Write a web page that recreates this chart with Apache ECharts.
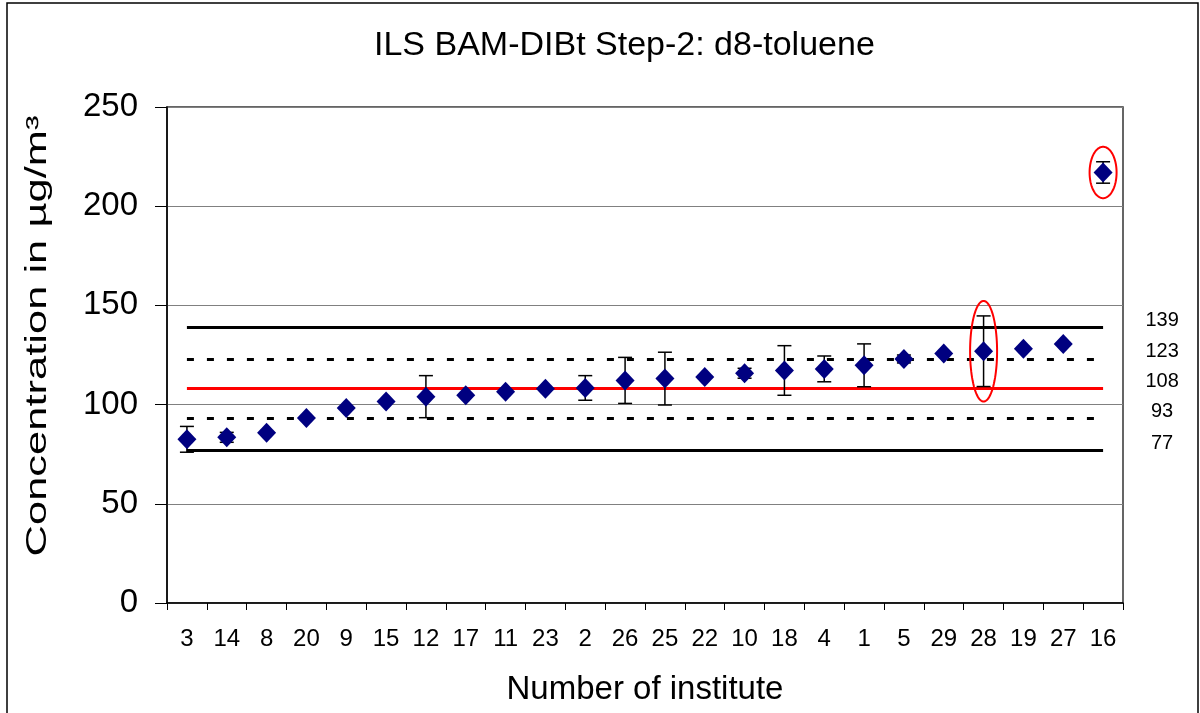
<!DOCTYPE html>
<html>
<head>
<meta charset="utf-8">
<script src="https://cdn.jsdelivr.net/npm/echarts@6/dist/echarts.min.js"></script>
<style>
html,body{margin:0;padding:0;background:#fff;}
#chart{width:1200px;height:713px;}
</style>
</head>
<body>
<div id="chart"></div>
<script>
// ---- data ----
const institutes = ["3","14","8","20","9","15","12","17","11","23","2","26","25","22","10","18","4","1","5","29","28","19","27","16"];
const concentrations = [82.5, 83.5, 85.8, 93.2, 98.3, 101.5, 104.0, 104.7, 106.5, 108.0, 108.4, 112.2, 113.1, 113.9, 115.8, 117.2, 118.0, 119.8, 123.0, 125.7, 126.9, 128.2, 130.5, 217.0];
const uncertainties = [6.5, 2.5, 0, 0, 0, 0, 10.6, 0, 0, 0, 6.2, 11.6, 13.3, 0, 2.5, 12.5, 6.5, 10.8, 2.0, 0, 17.8, 0, 0, 5.4];
const limitValues = [139, 123, 108, 93, 77];
const limitKinds = ["solid", "dotted", "mean", "dotted", "solid"];
const outliers = ["28", "16"];
const yTicks = [0, 50, 100, 150, 200, 250];

const FONT = '"Liberation Sans", Arial, sans-serif';
const chart = echarts.init(document.getElementById('chart'));

const n = institutes.length;
const errData = [];
institutes.forEach((c, i) => {
  if (uncertainties[i] > 0) errData.push([i, concentrations[i] - uncertainties[i], concentrations[i] + uncertainties[i]]);
});
const outData = outliers.map(c => {
  const i = institutes.indexOf(c);
  return [i, concentrations[i] - uncertainties[i], concentrations[i] + uncertainties[i]];
});

const styleFor = k => {
  if (k === 'mean') return {color: '#ff0000', width: 3, type: 'solid'};
  if (k === 'dotted') return {color: '#000', width: 3, type: [7, 13]};
  return {color: '#000', width: 3, type: 'solid'};
};

const option = {
  animation: false,
  backgroundColor: '#fff',
  title: {
    text: 'ILS BAM-DIBt Step-2: d8-toluene',
    left: 369, top: 24,
    textStyle: {fontFamily: FONT, fontSize: 34, fontWeight: 'normal', color: '#000'}
  },
  grid: {left: 167, right: 77, top: 107, bottom: 110, show: true, borderColor: '#333', borderWidth: 1.5, backgroundColor: '#fff'},
  xAxis: {
    type: 'category',
    data: institutes,
    boundaryGap: true,
    name: 'Number of institute',
    nameLocation: 'middle',
    nameGap: 70,
    nameTextStyle: {fontFamily: FONT, fontSize: 33, color: '#000'},
    axisLine: {lineStyle: {color: '#000', width: 1.5}},
    axisTick: {show: true, length: 7, alignWithLabel: false, lineStyle: {color: '#000'}},
    axisLabel: {interval: 0, margin: 24, fontFamily: FONT, fontSize: 24, color: '#000'},
    splitLine: {show: false}
  },
  yAxis: {
    type: 'value',
    min: yTicks[0], max: yTicks[yTicks.length - 1], interval: yTicks[1] - yTicks[0],
    axisLine: {show: true, lineStyle: {color: '#000', width: 1.5}},
    axisTick: {show: true, length: 12, lineStyle: {color: '#000'}},
    axisLabel: {margin: 29, fontFamily: FONT, fontSize: 33, color: '#000'},
    splitLine: {show: true, lineStyle: {color: '#808080', width: 1}}
  },
  graphic: [
    {type: 'rect', z: -10, shape: {x: 7, y: 3, width: 1191, height: 720}, style: {fill: 'none', stroke: '#000', lineWidth: 1.5}},
    {type: 'text', x: 38, y: 336, rotation: Math.PI / 2, scaleX: 1.5, scaleY: 1,
     style: {text: 'Concentration in µg/m³', font: '29px ' + FONT, fill: '#000',
             align: 'center', verticalAlign: 'middle', textAlign: 'center', textVerticalAlign: 'middle'}}
  ],
  series: [
    {
      type: 'custom',
      name: 'errors',
      z: 2,
      clip: false,
      data: errData,
      renderItem: function (params, api) {
        const lo = api.coord([api.value(0), api.value(1)]);
        const hi = api.coord([api.value(0), api.value(2)]);
        const w = 7;
        const st = {stroke: '#000', lineWidth: 1.5};
        return {type: 'group', children: [
          {type: 'line', shape: {x1: lo[0], y1: lo[1], x2: hi[0], y2: hi[1]}, style: st},
          {type: 'line', shape: {x1: hi[0] - w, y1: hi[1], x2: hi[0] + w, y2: hi[1]}, style: st},
          {type: 'line', shape: {x1: lo[0] - w, y1: lo[1], x2: lo[0] + w, y2: lo[1]}, style: st}
        ]};
      }
    },
    {
      type: 'scatter',
      name: 'concentration',
      z: 3,
      symbol: 'diamond',
      symbolSize: [19, 20],
      itemStyle: {color: '#000080', opacity: 1},
      emphasis: {disabled: true},
      data: concentrations,
      markLine: {
        z: 1,
        silent: true,
        symbol: ['none', 'none'],
        label: {show: false},
        data: limitValues.map((v, k) => [
          {coord: [institutes[0], v], lineStyle: styleFor(limitKinds[k])},
          {coord: [institutes[n - 1], v]}
        ])
      }
    },
    {
      type: 'custom',
      name: 'outliers',
      z: 4,
      clip: false,
      data: outData,
      renderItem: function (params, api) {
        const c = api.coord([api.value(0), (api.value(1) + api.value(2)) / 2]);
        const t = api.coord([api.value(0), api.value(2)]);
        const ry = (c[1] - t[1]) + 15;
        const rx = 13.5;
        const pts = [];
        for (let k = 0; k < 90; k++) {
          const a = k / 90 * Math.PI * 2;
          pts.push([c[0] + rx * Math.cos(a), c[1] + ry * Math.sin(a)]);
        }
        return {type: 'polygon', shape: {points: pts}, style: {fill: 'none', stroke: '#ff0000', lineWidth: 2}};
      }
    },
    {
      type: 'custom',
      name: 'limitLabels',
      z: 4,
      clip: false,
      data: limitValues.map(v => [n - 1, v]),
      renderItem: function (params, api) {
        const p = api.coord([api.value(0), api.value(1)]);
        return {type: 'text', x: p[0] + 59, y: p[1] - 7,
          style: {text: String(api.value(1)), font: '20px ' + FONT, fill: '#000',
                  align: 'center', verticalAlign: 'middle', textAlign: 'center', textVerticalAlign: 'middle'}};
      }
    }
  ]
};
chart.setOption(option);
</script>
</body>
</html>
